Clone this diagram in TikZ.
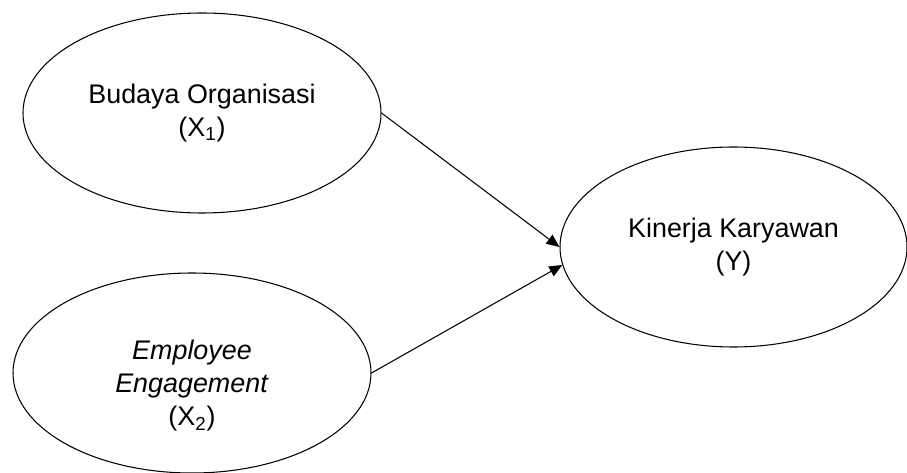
\documentclass[tikz,border=0pt]{standalone}
\usepackage{fontspec}
\setmainfont{Liberation Sans}
\usepackage{tikz}
\usetikzlibrary{shapes.geometric, arrows.meta, positioning}

\begin{document}
\begin{tikzpicture}[
    varnode/.style={draw, ellipse, line width=0.6pt, inner sep=0pt, align=center,
      font=\fontsize{15.3}{18.8}\selectfont},
    link/.style={line width=0.6pt, -{Triangle[length=0.26cm, width=0.22cm]}}
  ]
  \useasboundingbox (0,0) rectangle (18.14,9.44);

  % latent variables
  \node[varnode, minimum width=7.16cm, minimum height=4.0cm] (budaya) at (4.04,7.18)
    {Budaya Organisasi\\(X\textsubscript{1})};
  \node[varnode, minimum width=7.16cm, minimum height=4.0cm] (engage) at (3.84,1.98)
    {\rule{0pt}{0.9cm}\textit{Employee}\\\textit{Engagement}\\(X\textsubscript{2})};
  \node[varnode, minimum width=6.94cm, minimum height=4.0cm] (kinerja) at (14.67,4.5)
    {Kinerja Karyawan\\(Y)};

  % paths
  \draw[link] (budaya.east) -- (kinerja.west);
  \draw[link] (engage.east) -- (kinerja.186);
\end{tikzpicture}
\end{document}
